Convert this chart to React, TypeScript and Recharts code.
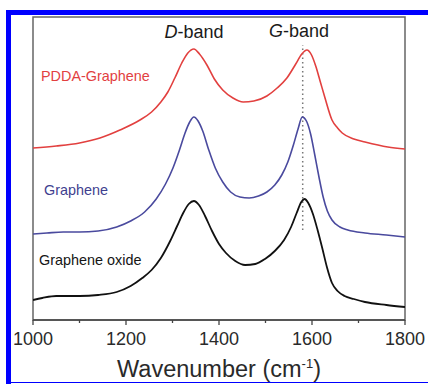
import React from 'react';
import { LineChart, Line, XAxis, YAxis, ReferenceArea, ReferenceLine, Customized } from 'recharts';

// Raman spectra (arbitrary intensity units, curves offset vertically)
const pddaWn = [1000, 1050, 1100, 1144, 1187, 1230, 1255, 1275, 1290, 1305, 1320, 1333, 1346, 1358, 1374, 1390, 1408, 1430, 1452, 1475, 1503, 1525, 1546, 1565, 1578, 1589, 1599, 1608, 1618, 1628, 1643, 1655, 1665, 1690, 1714, 1763, 1800];
const pddaI = [172, 174, 177, 182, 190, 200, 208, 218, 228, 242, 257, 267, 271, 266, 255, 241, 230, 222, 218, 219, 224, 232, 242, 256, 266, 270, 265, 254, 238, 222, 200, 192, 187, 181, 178, 173, 171];

const grapheneWn = [1000, 1030, 1065, 1100, 1140, 1180, 1210, 1240, 1265, 1285, 1301, 1315, 1327, 1337, 1346, 1355, 1365, 1378, 1392, 1408, 1425, 1445, 1465, 1485, 1503, 1520, 1535, 1548, 1560, 1570, 1579, 1588, 1597, 1606, 1615, 1624, 1633, 1643, 1660, 1677, 1714, 1760, 1800];
const grapheneI = [86, 87, 88, 88, 89, 93, 99, 108, 121, 136, 152, 170, 187, 198, 203, 199, 189, 170, 152, 138, 128, 123, 122, 124, 128, 135, 145, 158, 175, 191, 203, 199, 186, 165, 143, 123, 109, 100, 93, 90, 87, 85, 83];

const goWn = [1000, 1020, 1050, 1100, 1140, 1180, 1210, 1235, 1255, 1275, 1295, 1310, 1323, 1335, 1346, 1357, 1370, 1385, 1400, 1415, 1435, 1456, 1478, 1499, 1520, 1540, 1555, 1567, 1577, 1584, 1592, 1602, 1612, 1622, 1632, 1643, 1655, 1670, 1690, 1714, 1760, 1800];
const goI = [20, 22, 24, 24, 25, 28, 34, 42, 50, 62, 79, 94, 107, 116, 119, 115, 104, 89, 76, 67, 59, 55, 56, 61, 69, 80, 93, 107, 118, 121, 117, 106, 90, 72, 53, 37, 29, 24, 21, 18, 15, 13];

const xTicks = [1000, 1100, 1200, 1300, 1400, 1500, 1600, 1700, 1800];
const seriesNames = ['PDDA-Graphene', 'Graphene', 'Graphene oxide'];
const gBandPos = 1580;

const pddaData = pddaWn.map((wn, k) => ({ wn, i: pddaI[k] }));
const grapheneData = grapheneWn.map((wn, k) => ({ wn, i: grapheneI[k] }));
const goData = goWn.map((wn, k) => ({ wn, i: goI[k] }));

const FONT = '"Liberation Sans", Arial, Helvetica, sans-serif';

const Tick = (props: any) => {
  const { x, y, payload } = props;
  const v = payload.value;
  const major = v % 200 === 0;
  return (
    <g>
      <line x1={x} x2={x} y1={y} y2={y + (major ? 5 : 3)} stroke="#444" strokeWidth={1.3} />
      {major && (
        <text x={x} y={y + 25} textAnchor="middle" fontSize={18} fill="#2a2a2a" fontFamily={FONT}>
          {v}
        </text>
      )}
    </g>
  );
};

const Annotations = () => (
  <g fontFamily={FONT}>
    <text x={194} y={38} textAnchor="middle" fontSize={18} fill="#1a1a1a">
      <tspan fontStyle="italic">D</tspan>-band
    </text>
    <text x={299} y={37} textAnchor="middle" fontSize={18} fill="#1a1a1a">
      <tspan fontStyle="italic">G</tspan>-band
    </text>
    <text x={41} y={81} fontSize={14.4} fill="#e2403f">{seriesNames[0]}</text>
    <text x={44} y={195} fontSize={14.4} fill="#3f3f8f">{seriesNames[1]}</text>
    <text x={39} y={265} fontSize={14.4} fill="#151515">{seriesNames[2]}</text>
    <text x={219} y={377} textAnchor="middle" fontSize={23.5} fill="#2a2a2a">
      Wavenumber (cm<tspan dy={-9} fontSize={13}>-1</tspan><tspan dy={9}>)</tspan>
    </text>
  </g>
);

export default function App() {
  return (
    <div style={{ position: 'absolute', left: 0, top: 0, width: 428, height: 384, background: '#fff' }}>
      <div style={{ position: 'absolute', left: 6, top: 10, width: 422, height: 5, background: '#0000ff' }} />
      <div style={{ position: 'absolute', left: 6, top: 10, width: 5, height: 374, background: '#0000ff' }} />
      <div style={{ position: 'absolute', left: 6, top: 382, width: 422, height: 1, background: '#0000ff' }} />
      <div style={{ position: 'absolute', left: 0, top: 0 }}>
        <LineChart width={428} height={384} margin={{ top: 17, right: 23, bottom: 34, left: 33 }}>
          <XAxis
            dataKey="wn"
            type="number"
            domain={[1000, 1800]}
            ticks={xTicks}
            allowDataOverflow
            height={30}
            axisLine={{ stroke: '#444', strokeWidth: 1.5 }}
            tickLine={false}
            tickSize={0}
            tickMargin={0}
            tick={<Tick />}
            interval={0}
          />
          <YAxis type="number" domain={[0, 303]} hide width={0} allowDataOverflow />
          <ReferenceArea x1={1000} x2={1800} y1={0} y2={303} fill="none" stroke="#666" strokeWidth={1.5} />
          <ReferenceLine
            segment={[{ x: gBandPos, y: 90 }, { x: gBandPos, y: 275 }]}
            stroke="#777"
            strokeWidth={1.5}
            strokeDasharray="1.5 3"
          />
          <Line data={pddaData} dataKey="i" type="monotone" dot={false} stroke="#e2403f" strokeWidth={1.6} isAnimationActive={false} />
          <Line data={grapheneData} dataKey="i" type="monotone" dot={false} stroke="#4a4a9e" strokeWidth={1.6} isAnimationActive={false} />
          <Line data={goData} dataKey="i" type="monotone" dot={false} stroke="#111" strokeWidth={1.8} isAnimationActive={false} />
          <Customized component={<Annotations />} />
        </LineChart>
      </div>
    </div>
  );
}
